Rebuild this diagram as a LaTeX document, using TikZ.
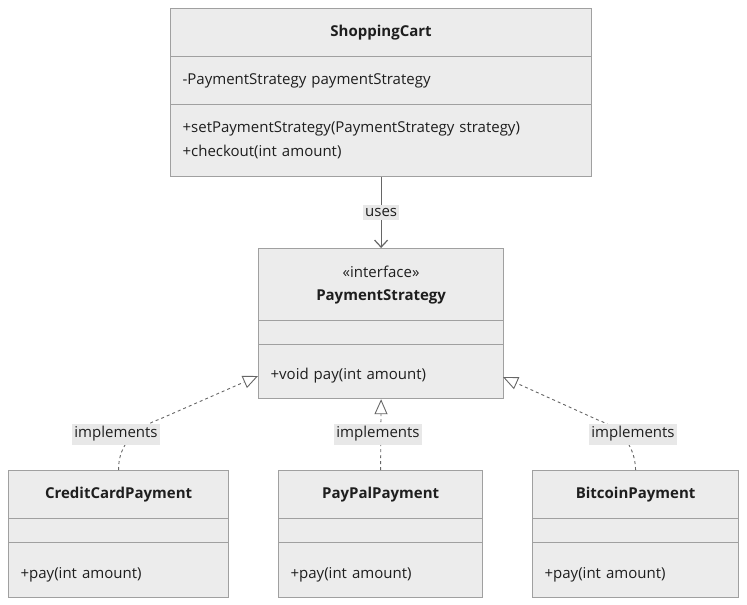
\documentclass[tikz,border=0pt]{standalone}
\usepackage{fontspec}
\setmainfont{Open Sans}
\usetikzlibrary{arrows.meta}
\definecolor{classfill}{HTML}{ECECEC}
\definecolor{classborder}{HTML}{A0A0A0}
\definecolor{linkgray}{HTML}{666666}
\definecolor{labelfill}{HTML}{E8E8E8}
\definecolor{textdark}{HTML}{1E1E1E}

\begin{document}
\begin{tikzpicture}[x=1pt, y=-1pt,
    box/.style={draw=classborder, fill=classfill, line width=1.2pt, anchor=north west,
      inner xsep=12pt, inner ysep=0pt, text=textdark, font=\fontsize{15}{24}\selectfont},
    members/.style={box, align=left},
    lowmembers/.style={members, text height=19pt, text depth=3pt},
    lbl/.style={fill=labelfill, text=textdark, inner xsep=2pt, inner ysep=3pt,
      font=\fontsize{15}{16}\selectfont},
    impl/.style={linkgray, line width=0.9pt, dash pattern=on 3pt off 3pt,
      -{Triangle[open, length=15pt, width=13pt, line width=0.9pt]}}]
        \useasboundingbox (0,0) rectangle (747,605);

        % ShoppingCart
        \node[box, minimum width=421pt, minimum height=48pt] (cartTitle) at (170,8) {\bfseries ShoppingCart};
        \node[members, minimum height=48pt, text width=397pt] (cartAttr) at (170,56) {-PaymentStrategy paymentStrategy};
        \node[members, minimum height=72pt, text width=397pt] (cartMeth) at (170,104)
          {+setPaymentStrategy(PaymentStrategy strategy)\\+checkout(int amount)};

        % PaymentStrategy interface
        \node[box, minimum width=245pt, minimum height=72pt, align=center] (psTitle) at (258,248)
          {«interface»\\[-1pt]\bfseries PaymentStrategy};
        \node[box, minimum width=245pt, minimum height=24pt] (psAttr) at (258,320) {};
        \node[lowmembers, minimum height=54pt, text width=221pt] (psMeth) at (258,344) {+void pay(int amount)};

        % CreditCardPayment
        \node[box, minimum width=220pt, minimum height=48pt] (ccTitle) at (8,470) {\bfseries CreditCardPayment};
        \node[box, minimum width=220pt, minimum height=24pt] (ccAttr) at (8,518) {};
        \node[lowmembers, minimum height=55pt, text width=196pt] (ccMeth) at (8,542) {+pay(int amount)};

        % PayPalPayment
        \node[box, minimum width=204pt, minimum height=48pt] (ppTitle) at (278,470) {\bfseries PayPalPayment};
        \node[box, minimum width=204pt, minimum height=24pt] (ppAttr) at (278,518) {};
        \node[lowmembers, minimum height=55pt, text width=180pt] (ppMeth) at (278,542) {+pay(int amount)};

        % BitcoinPayment
        \node[box, minimum width=206pt, minimum height=48pt] (btcTitle) at (532,470) {\bfseries BitcoinPayment};
        \node[box, minimum width=206pt, minimum height=24pt] (btcAttr) at (532,518) {};
        \node[lowmembers, minimum height=55pt, text width=182pt] (btcMeth) at (532,542) {+pay(int amount)};

        % Association
        \draw[linkgray, line width=1pt, -{Straight Barb[length=7pt, width=13pt, line width=1.2pt]}]
          (cartMeth.south) -- node[lbl] (usesLbl) {uses} (psTitle.north);

        % Realizations
        \coordinate (ccTip) at (258,376);
        \coordinate (btcTip) at (503,377);
        \draw[impl] (ccTitle.north) .. controls (118,445) and (135,428) .. (160,419) -- (ccTip);
        \node[lbl] (ccLbl) at (116,434) {implements};
        \draw[impl] (ppTitle.north) -- (psMeth.south);
        \node[lbl] (ppLbl) at (378,434) {implements};
        \draw[impl] (btcTitle.north) .. controls (635,445) and (620,428) .. (598,420) -- (btcTip);
        \node[lbl] (btcLbl) at (633,434) {implements};
      \end{tikzpicture}
\end{document}
